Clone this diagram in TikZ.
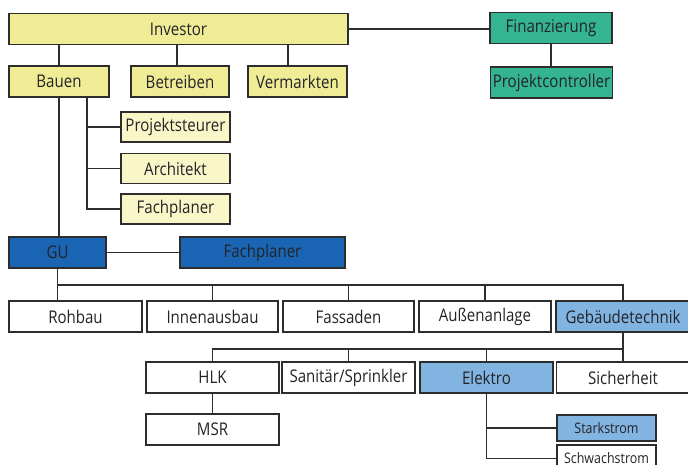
\documentclass[tikz,border=0pt]{standalone}
\usepackage{fontspec}
\setmainfont{Open Sans}[FakeStretch=0.86]
\usepackage{tikz}

\definecolor{invyellow}{RGB}{240,236,150}
\definecolor{paleyellow}{RGB}{249,247,200}
\definecolor{finteal}{RGB}{52,180,145}
\definecolor{gublue}{RGB}{26,100,180}
\definecolor{techblue}{RGB}{130,180,225}
\definecolor{linegray}{RGB}{45,45,45}
\definecolor{textgray}{RGB}{35,35,40}

\tikzset{
	box/.style={draw=linegray, line width=1.9pt, rectangle, inner sep=0pt, text=textgray,
		font=\fontsize{17.5}{19}\selectfont},
	small/.style={font=\fontsize{14.5}{16}\selectfont},
	conn/.style={draw=linegray, line width=1.9pt},
}

\begin{document}
\begin{tikzpicture}[x=1pt,y=-1pt]
			\useasboundingbox (0,0) rectangle (688,465);
			\clip (0,0) rectangle (688,465);
			
			% investor side, top two rows
			\foreach \name/\x/\y/\w/\txt in
			{Investor/178.5/29/339/Investor, Bauen/59/81.5/100/Bauen,
				Betreiben/180/81.5/98/Betreiben, Vermarkten/297.5/81.5/99/Vermarkten}{
				\node[box, fill=invyellow, minimum width=\w pt, minimum height=31pt] (\name) at (\x,\y) {\txt};
			}
			\foreach \name/\x/\y/\txt in
			{Finanzierung/551/28/Finanzierung, Controller/551.5/82.5/Projektcontroller}{
				\node[box, fill=finteal, minimum width=122pt, minimum height=31pt] (\name) at (\x,\y) {\txt};
			}
			
			% helpers of the Bauen branch
			\foreach \name/\y/\txt in
			{Steurer/127/Projektsteurer, Architekt/168.5/Architekt, FachplanerB/209/Fachplaner}{
				\node[box, fill=paleyellow, minimum width=109pt, minimum height=30pt] (\name) at (175.5,\y) {\txt};
			}
			
			% general contractor
			\node[box, fill=gublue, minimum width=97pt, minimum height=31pt] (GU) at (57.5,252.5) {GU};
			\node[box, fill=gublue, minimum width=165pt, minimum height=31pt] (FachplanerGU) at (262.5,252.5) {Fachplaner};
			
			% trades
			\foreach \name/\x/\w/\txt in
			{Rohbau/75.5/133/Rohbau, Innen/212.5/131/Innenausbau, Fassaden/348.5/131/Fassaden,
				Aussen/485/132/Außenanlage}{
				\node[box, fill=white, minimum width=\w pt, minimum height=31pt] (\name) at (\x,316.5) {\txt};
			}
			\node[box, fill=techblue, minimum width=134pt, minimum height=31pt] (Gebaeude) at (623,316.5) {Gebäudetechnik};
			
			% building services
			\foreach \name/\x/\txt in
			{HLK/212.5/HLK, Sanitaer/348.5/{Sanitär/Sprinkler}, Sicherheit/623/Sicherheit}{
				\node[box, fill=white, minimum width=133pt, minimum height=31pt] (\name) at (\x,377.5) {\txt};
			}
			\node[box, fill=techblue, minimum width=133pt, minimum height=31pt] (Elektro) at (486.5,377.5) {Elektro};
			\node[box, fill=white, minimum width=133pt, minimum height=31pt] (MSR) at (212.5,429.5) {MSR};
			\node[box, small, fill=techblue, minimum width=99pt, minimum height=26pt] (Stark) at (606.5,428) {Starkstrom};
			\node[box, small, fill=white, minimum width=99pt, minimum height=27pt] (Schwach) at (606.5,458.5) {Schwachstrom};
			
			% edges of the top
			\foreach \n/\dx in {Bauen/0, Betreiben/-3, Vermarkten/-9.5}{
				\draw[conn] ([xshift=\dx pt]\n.north) -- ([xshift=\dx pt]\n.north |- Investor.south);
			}
			\draw[conn] (Investor.east) -- (Investor.east -| Finanzierung.west);
			\draw[conn] (Finanzierung.south) -- (Finanzierung.south |- Controller.north);
			
			% Bauen down to its helpers and to GU
			\coordinate (bauenR) at ([xshift=28pt]Bauen.south);
			\draw[conn] (bauenR) |- (FachplanerB.west);
			\foreach \n in {Steurer, Architekt}{
				\draw[conn] (\n.west) -- (\n.west -| bauenR);
			}
			\draw[conn] (Bauen.south) -- (Bauen.south |- GU.north);
			\draw[conn] (GU.east) -- (FachplanerGU.west);
			
			% GU to the trades
			\coordinate (busGU) at ([yshift=-16pt]GU.south);
			\draw[conn] (GU.south) -- (GU.south |- Rohbau.north);
			\draw[conn] (busGU) -| (Gebaeude.north);
			\foreach \n in {Innen, Fassaden, Aussen}{
				\draw[conn] (\n.north) -- (\n.north |- busGU);
			}
			
			% building services
			\coordinate (busGT) at ([yshift=-16pt]Gebaeude.south);
			\draw[conn] (Gebaeude.south) -- (Sicherheit.north);
			\draw[conn] (busGT) -| (HLK.north);
			\foreach \n in {Sanitaer, Elektro}{
				\draw[conn] (\n.north) -- (\n.north |- busGT);
			}
			\draw[conn] (HLK.south) -- (MSR.north);
			\draw[conn] (Elektro.south) |- (Schwach.west);
			\draw[conn] (Stark.west) -- (Stark.west -| Elektro.south);
		\end{tikzpicture}
\end{document}
